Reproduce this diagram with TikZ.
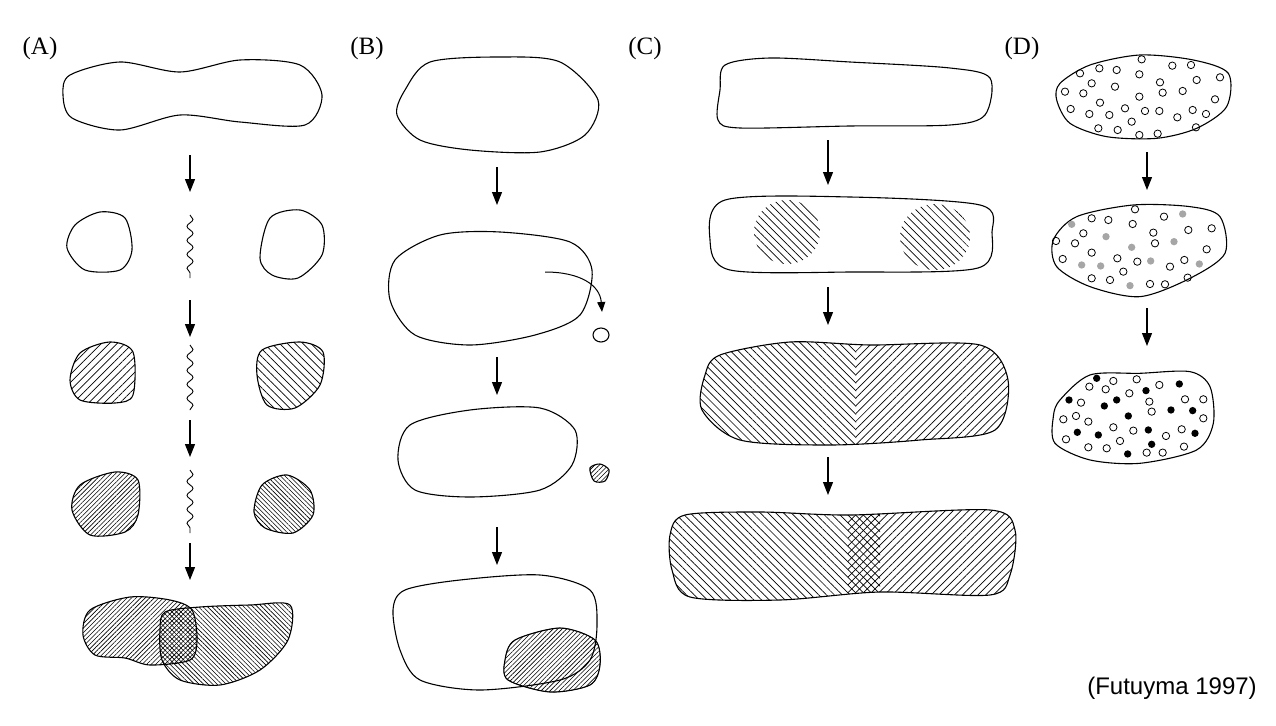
\documentclass[tikz,border=0pt]{standalone}
\usepackage{fontspec}
\setmainfont{Liberation Serif}
\setsansfont{Liberation Sans}
\usetikzlibrary{arrows.meta,patterns.meta,decorations.pathmorphing}
\begin{document}
\begin{tikzpicture}[x=1pt,y=-1pt,
  ol/.style={line width=1.1pt},
  arr/.style={line width=1.1pt,-{Triangle[width=10pt,length=13pt]}},
  wav/.style={line width=0.9pt,decorate,decoration={snake,amplitude=3pt,segment length=14pt}},
  hu/.style={pattern={Lines[angle=45,distance=5.5pt,line width=0.7pt]}},
  hd/.style={pattern={Lines[angle=-45,distance=5.5pt,line width=0.7pt]}},
  fu/.style={pattern={Lines[angle=45,distance=3.2pt,line width=0.6pt]}},
  fd/.style={pattern={Lines[angle=-45,distance=3.2pt,line width=0.6pt]}},
  lab/.style={font=\fontsize{25}{25}\selectfont}]
\useasboundingbox (0,0) rectangle (1276,725);
% labels
\node[lab] (la) at (40,48) {(A)};
\node[lab] (lb) at (367,48) {(B)};
\node[lab] (lc) at (645,48) {(C)};
\node[lab] (ld) at (1022,48) {(D)};
\node[font=\sffamily\fontsize{24}{24}\selectfont] (cite) at (1172,688) {(Futuyma 1997)};
% ---------- A ----------
\draw[ol] plot[smooth cycle] coordinates{(70,75)(120,62)(180,72)(240,60)(300,65)(322,95)(305,125)(240,122)(180,115)(120,130)(72,118)(63,95)};
\draw[arr] (190,155) -- (190,192);
\draw[ol] plot[smooth cycle] coordinates{(75,225)(100,212)(125,218)(132,250)(120,270)(85,270)(67,248)};
\draw[ol] plot[smooth cycle] coordinates{(270,218)(300,210)(322,225)(322,255)(298,278)(272,275)(260,258)};
\draw[wav] (190,215) -- (190,278);
\draw[arr] (190,300) -- (190,337);
\draw[ol,hu] plot[smooth cycle] coordinates{(80,353)(110,342)(133,352)(133,395)(115,403)(80,400)(70,380)};
\draw[ol,hd] plot[smooth cycle] coordinates{(262,350)(300,342)(323,352)(320,385)(295,408)(267,405)(257,375)};
\draw[wav] (190,345) -- (190,410);
\draw[arr] (190,420) -- (190,457);
\draw[ol,fu] plot[smooth cycle] coordinates{(80,485)(115,472)(138,480)(138,515)(125,532)(90,535)(72,510)};
\draw[ol,fd] plot[smooth cycle] coordinates{(262,485)(287,475)(310,490)(313,515)(293,533)(265,528)(254,512)};
\draw[wav] (190,470) -- (190,533);
\draw[arr] (190,543) -- (190,580);
\draw[ol,fu] plot[smooth cycle] coordinates{(90,610)(130,597)(170,600)(192,610)(197,640)(190,660)(150,665)(125,658)(95,655)(83,635)};
\draw[ol,fd] plot[smooth cycle] coordinates{(165,612)(200,607)(250,605)(290,605)(288,640)(260,670)(220,685)(180,680)(162,660)(160,630)};
% ---------- B ----------
\draw[ol] plot[smooth cycle] coordinates{(405,90)(430,62)(500,57)(560,62)(598,100)(585,135)(540,152)(470,150)(420,140)(397,115)};
\draw[arr] (497,167) -- (497,205);
\draw[ol] plot[smooth cycle] coordinates{(395,260)(440,235)(500,232)(570,242)(592,270)(580,315)(535,335)(470,345)(415,335)(390,300)};
\draw[line width=1pt,-{Triangle[width=8pt,length=10pt]}] (545,272) .. controls (580,272) and (600,285) .. (602,312);
\draw[ol] (601,335) ellipse (8 and 7);
\draw[arr] (497,357) -- (497,395);
\draw[ol] plot[smooth cycle] coordinates{(410,425)(470,410)(540,408)(575,430)(572,465)(540,490)(470,497)(415,490)(398,460)};
\draw[ol,fu] plot[smooth cycle] coordinates{(590,468)(600,464)(609,470)(605,481)(594,481)};
\draw[arr] (497,527) -- (497,565);
\draw[fu] plot[smooth cycle] coordinates{(515,640)(560,628)(595,640)(600,665)(590,685)(550,692)(508,680)(505,660)};
\draw[ol] plot[smooth cycle] coordinates{(405,590)(460,580)(540,575)(590,590)(597,625)(590,660)(560,680)(480,690)(420,680)(400,650)(393,610)};
\draw[ol] plot[smooth cycle] coordinates{(515,640)(560,628)(595,640)(600,665)(590,685)(550,692)(508,680)(505,660)};
% ---------- C ----------
\draw[ol] plot[smooth cycle] coordinates{(725,65)(770,58)(850,62)(950,68)(990,78)(985,115)(950,125)(850,126)(740,128)(718,120)(720,90)};
\draw[arr] (828,140) -- (828,185);
\begin{scope}
\clip plot[smooth cycle] coordinates{(725,200)(850,197)(980,205)(992,232)(978,268)(850,272)(730,270)(710,240)};
\fill[hd] (787,232) ellipse (33 and 32);
\fill[hd] (935,237) ellipse (35 and 33);
\end{scope}
\draw[ol] plot[smooth cycle] coordinates{(725,200)(850,197)(980,205)(992,232)(978,268)(850,272)(730,270)(710,240)};
\draw[arr] (828,287) -- (828,325);
\begin{scope}
\clip plot[smooth cycle] coordinates{(720,355)(790,342)(870,345)(980,345)(1008,380)(995,430)(920,440)(830,445)(740,440)(702,410)(705,375)};
\fill[hd] (650,330) rectangle (856,460);
\fill[hu] (856,330) rectangle (1020,460);
\end{scope}
\draw[ol] plot[smooth cycle] coordinates{(720,355)(790,342)(870,345)(980,345)(1008,380)(995,430)(920,440)(830,445)(740,440)(702,410)(705,375)};
\draw[arr] (828,457) -- (828,495);
\begin{scope}
\clip plot[smooth cycle] coordinates{(685,515)(760,512)(850,515)(990,510)(1015,530)(1010,575)(990,595)(880,592)(780,600)(690,597)(672,570)(670,535)};
\fill[hd] (650,500) rectangle (880,610);
\fill[hu] (848,500) rectangle (1030,610);
\end{scope}
\draw[ol] plot[smooth cycle] coordinates{(685,515)(760,512)(850,515)(990,510)(1015,530)(1010,575)(990,595)(880,592)(780,600)(690,597)(672,570)(670,535)};
% ---------- D ----------
\begin{scope}[shift={(1040,40)},x=0.3333pt,y=-0.3333pt]
\draw[line width=1.1pt] plot[smooth cycle] coordinates{(60,130)(150,75)(300,45)(460,60)(565,100)(560,200)(470,265)(350,295)(200,290)(90,250)(50,180)};
\draw[line width=1.1pt] plot[smooth cycle] coordinates{(40,600)(110,530)(280,495)(450,500)(540,530)(555,640)(450,715)(300,770)(150,740)(50,680)};
\draw[line width=1.1pt] plot[smooth cycle] coordinates{(60,1080)(150,1005)(300,1000)(450,995)(510,1040)(520,1150)(470,1230)(300,1270)(150,1260)(45,1210)(40,1130)};
\foreach \a/\b in {305/58,120/100,178/85,230/90,298/103,397/77,453/75,540/112,470/120,155/130,225/140,360/127,75/155,130/160,298/170,368/158,428/153,525/178,180/188,92/207,255/205,148/222,208/225,315/213,358/213,458/210,412/232,498/222,275/245,175/265,233/270,298/285,353/281,468/262,
285/508,155/535,205/540,278/552,372/530,445/570,515/565,130/580,340/578,48/603,105/610,345/610,155/638,232/655,292/665,390/680,433/660,500/628,68/657,250/695,155/715,210/720,330/732,375/733,443/713,
290/1018,148/1040,197/1048,220/1023,358/1035,268/1060,435/1078,490/1078,123/1088,328/1085,335/1115,108/1128,145/1145,70/1138,220/1162,280/1172,378/1188,425/1168,490/1135,78/1198,145/1222,200/1225,240/1203,320/1238,368/1238,432/1220}
  \draw[line width=0.8pt] (\a,\b) circle (11);
\foreach \a/\b in {95/553,428/522,198/590,275/622,402/605,125/675,182/678,332/663,478/672,270/737}
  \fill[black!35] (\a,\b) circle (11);
\foreach \a/\b in {170/1015,418/1032,318/1052,87/1080,230/1080,193/1098,393/1110,458/1112,265/1128,325/1170,112/1177,175/1185,465/1180,335/1213,263/1242}
  \fill (\a,\b) circle (11);
\end{scope}
\draw[arr] (1147,152) -- (1147,190);
\draw[arr] (1147,308) -- (1147,346);
\end{tikzpicture}
\end{document}
